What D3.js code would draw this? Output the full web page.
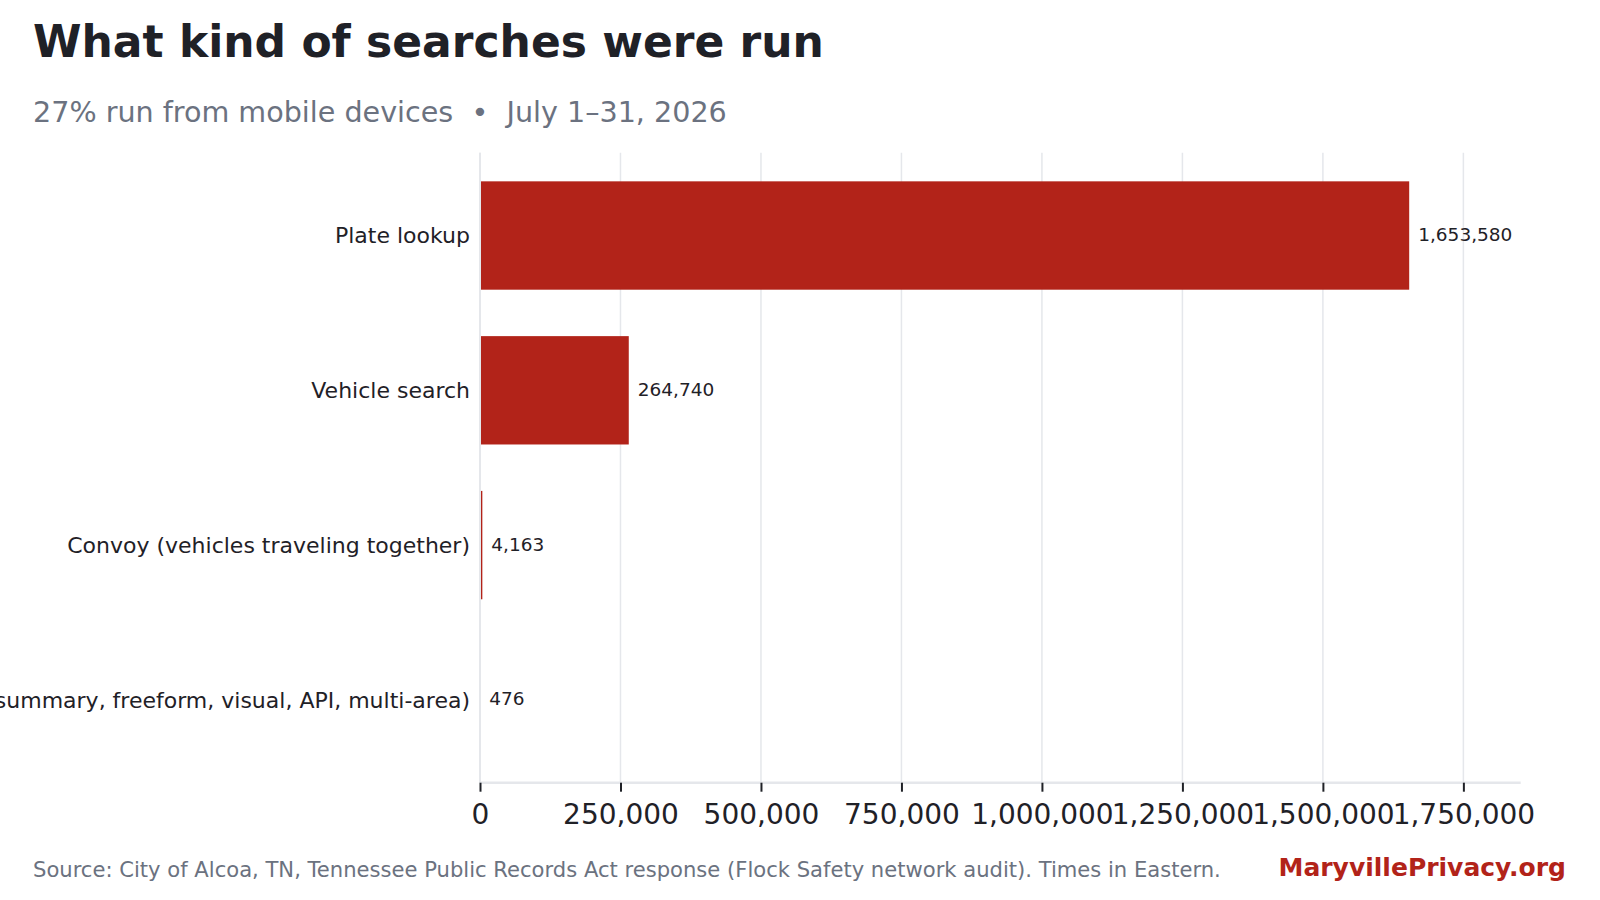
<!DOCTYPE html>
<html>
<head>
<meta charset="utf-8">
<script src="https://cdn.jsdelivr.net/npm/d3@7"></script>
<style>
  html, body { margin: 0; padding: 0; background: #fff; }
  svg { display: block; font-family: "DejaVu Sans", sans-serif; }
</style>
</head>
<body>
<div id="chart"></div>
<script>
const categories = [
    "Plate lookup",
    "Vehicle search",
    "Convoy (vehicles traveling together)",
    "Other (summary, freeform, visual, API, multi-area)"
];
const searchCounts = [1653580, 264740, 4163, 476];
const xTickValues = [0, 250000, 500000, 750000, 1000000, 1250000, 1500000, 1750000];

const titleText = "What kind of searches were run";
const subtitleText = "27% run from mobile devices  \u2022  July 1\u201331, 2026";
const sourceText = "Source: City of Alcoa, TN, Tennessee Public Records Act response (Flock Safety network audit). Times in Eastern.";
const brandText = "MaryvillePrivacy.org";

const W = 1600, H = 900;
const plot = { left: 480, right: 1520.7, top: 152.7, bottom: 782.7 };
const barColor = "#b22319";
const gridColor = "#e5e7eb";

const svg = d3.select("#chart")
    .append("svg")
    .attr("width", W)
    .attr("height", H)
    .attr("viewBox", `0 0 ${W} ${H}`);

const data = categories.map((c, i) => ({ label: c, value: searchCounts[i] }));

const x = d3.scaleLinear()
    .domain([0, d3.max(searchCounts) * 1.12])
    .range([plot.left, plot.right]);

const y = d3.scaleBand()
    .domain(categories)
    .range([plot.top, plot.bottom])
    .paddingInner(0.3)
    .paddingOuter(0.185);

// grid lines behind bars
svg.append("g")
    .selectAll("line")
    .data(xTickValues)
    .enter()
    .append("line")
    .attr("x1", d => x(d))
    .attr("x2", d => x(d))
    .attr("y1", plot.top)
    .attr("y2", plot.bottom)
    .attr("stroke", gridColor)
    .attr("stroke-width", 1.5);

svg.append("g")
    .selectAll("rect")
    .data(data)
    .enter()
    .append("rect")
    .attr("x", x(0))
    .attr("y", d => y(d.label))
    .attr("width", d => x(d.value) - x(0))
    .attr("height", y.bandwidth())
    .attr("fill", barColor);

// spines
svg.append("line")
    .attr("x1", plot.left).attr("x2", plot.left)
    .attr("y1", plot.top).attr("y2", plot.bottom)
    .attr("stroke", gridColor)
    .attr("stroke-width", 2);

const xAxis = svg.append("g")
    .attr("transform", `translate(0,${plot.bottom})`)
    .call(d3.axisBottom(x).tickValues(xTickValues).tickFormat(d3.format(",")).tickSize(9).tickPadding(12));

xAxis.select(".domain")
    .attr("stroke", gridColor)
    .attr("stroke-width", 2.5)
    .attr("d", `M${plot.left},0H${plot.right}`);
xAxis.selectAll(".tick line")
    .attr("stroke", "#1f2127")
    .attr("stroke-width", 2);
xAxis.selectAll(".tick text")
    .attr("fill", "#1f2127")
    .style("font-size", "28px")
    .style("font-family", "DejaVu Sans");

// category labels
svg.append("g")
    .selectAll("text")
    .data(data)
    .enter()
    .append("text")
    .attr("x", plot.left - 10)
    .attr("y", d => y(d.label) + y.bandwidth() / 2)
    .attr("dy", "0.36em")
    .attr("text-anchor", "end")
    .attr("fill", "#1f2127")
    .style("font-size", "22px")
    .text(d => d.label);

// value labels
svg.append("g")
    .selectAll("text")
    .data(data)
    .enter()
    .append("text")
    .attr("x", d => x(d.value) + 9)
    .attr("y", d => y(d.label) + y.bandwidth() / 2)
    .attr("dy", "0.3em")
    .attr("fill", "#1f2127")
    .style("font-size", "18.5px")
    .text(d => d3.format(",")(d.value));

// titles
svg.append("text")
    .attr("x", 33)
    .attr("y", 57)
    .attr("fill", "#1f2127")
    .style("font-size", "44px")
    .style("font-weight", "bold")
    .text(titleText);

svg.append("text")
    .attr("x", 33)
    .attr("y", 122)
    .attr("fill", "#6b7280")
    .style("font-size", "28.6px")
    .style("white-space", "pre")
    .attr("xml:space", "preserve")
    .text(subtitleText);

svg.append("text")
    .attr("x", 33)
    .attr("y", 877)
    .attr("fill", "#6b7280")
    .style("font-size", "21.1px")
    .text(sourceText);

svg.append("text")
    .attr("x", 1566)
    .attr("y", 876)
    .attr("text-anchor", "end")
    .attr("fill", barColor)
    .style("font-size", "25px")
    .style("font-weight", "bold")
    .text(brandText);
</script>
</body>
</html>
